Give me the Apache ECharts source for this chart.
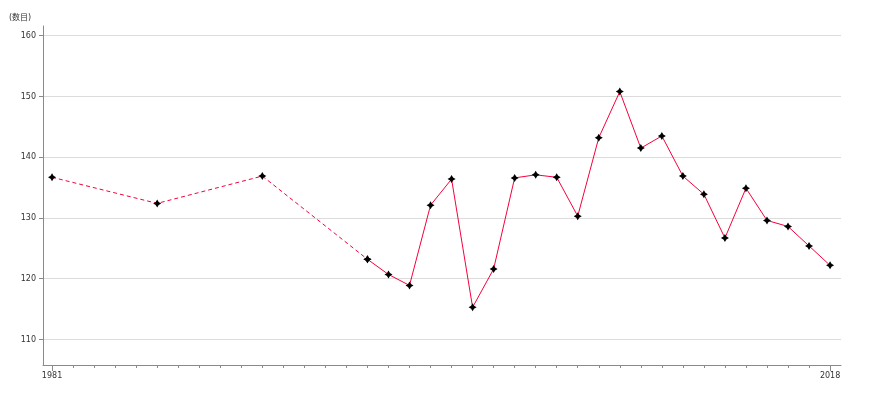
<!DOCTYPE html>
<html><head><meta charset="utf-8">
<script src="https://cdn.jsdelivr.net/npm/echarts@6/dist/echarts.min.js"></script>
<style>html,body{margin:0;padding:0;background:#fff}#c{width:870px;height:400px}</style>
</head><body><div id="c"></div>
<script>
var dashedYears = [1981, 1986, 1991, 1996];
var dashedValues = [136.7, 132.4, 136.9, 123.2];
var solidYears = [1996, 1997, 1998, 1999, 2000, 2001, 2002, 2003, 2004, 2005, 2006, 2007, 2008, 2009, 2010, 2011, 2012, 2013, 2014, 2015, 2016, 2017, 2018];
var solidValues = [123.2, 120.7, 118.9, 132.1, 136.4, 115.3, 121.6, 136.6, 137.1, 136.7, 130.3, 143.2, 150.8, 141.5, 143.5, 136.9, 133.9, 126.7, 134.9, 129.6, 128.6, 125.4, 122.2];
var yTicks = [110, 120, 130, 140, 150, 160];
var xLabels = [1981, 2018];
var unitLabel = '(数目)';

var minorYears = [];
for (var y = xLabels[0]; y <= xLabels[1]; y++) minorYears.push(y);

var chart = echarts.init(document.getElementById('c'), null, {renderer: 'canvas'});
var font = '"DejaVu Sans", "Noto Sans CJK SC", sans-serif';
var axisColor = '#8a8a8a';
var marker = 'path://M0,-4 L1.5,-1.5 L4,0 L1.5,1.5 L0,4 L-1.5,1.5 L-4,0 L-1.5,-1.5 Z';
chart.setOption({
  animation: false,
  textStyle: {fontFamily: font},
  title: {text: unitLabel, left: 4, top: 9, textStyle: {fontSize: 8, fontWeight: 'normal', color: '#333', fontFamily: font}},
  grid: {left: 43, right: 29, top: 26, bottom: 35, containLabel: false},
  xAxis: [{
    type: 'value', min: 1980.57, max: 2018.52,
    axisLine: {lineStyle: {color: axisColor}},
    axisTick: {show: true, length: 6, customValues: xLabels, lineStyle: {color: axisColor}},
    axisLabel: {customValues: xLabels, fontSize: 8, color: '#333', margin: 7, fontFamily: font,
      formatter: function (v) { return String(v); }},
    splitLine: {show: false}
  }, {
    type: 'value', min: 1980.57, max: 2018.52, position: 'bottom',
    axisLine: {show: false},
    axisTick: {show: true, length: 3, customValues: minorYears, lineStyle: {color: axisColor}},
    axisLabel: {show: false},
    splitLine: {show: false}
  }],
  yAxis: {
    type: 'value', min: 105.8, max: 161.6,
    axisLine: {show: true, lineStyle: {color: axisColor}},
    axisTick: {show: true, length: 4, customValues: yTicks, lineStyle: {color: axisColor}},
    axisLabel: {customValues: yTicks, fontSize: 8, color: '#333', margin: 7, fontFamily: font},
    splitLine: {show: true, lineStyle: {color: '#dcdcdc', width: 1}}
  },
  series: [{
    type: 'line', xAxisIndex: 0,
    data: dashedYears.map(function (x, i) { return [x, dashedValues[i]]; }),
    lineStyle: {color: '#f5003c', width: 1, type: [4, 3]},
    symbol: marker, symbolSize: 8, itemStyle: {color: '#000'}, z: 3
  }, {
    type: 'line', xAxisIndex: 0,
    data: solidYears.map(function (x, i) { return [x, solidValues[i]]; }),
    lineStyle: {color: '#f5003c', width: 1},
    symbol: marker, symbolSize: 8, itemStyle: {color: '#000'}, z: 3
  }]
});
</script></body></html>
